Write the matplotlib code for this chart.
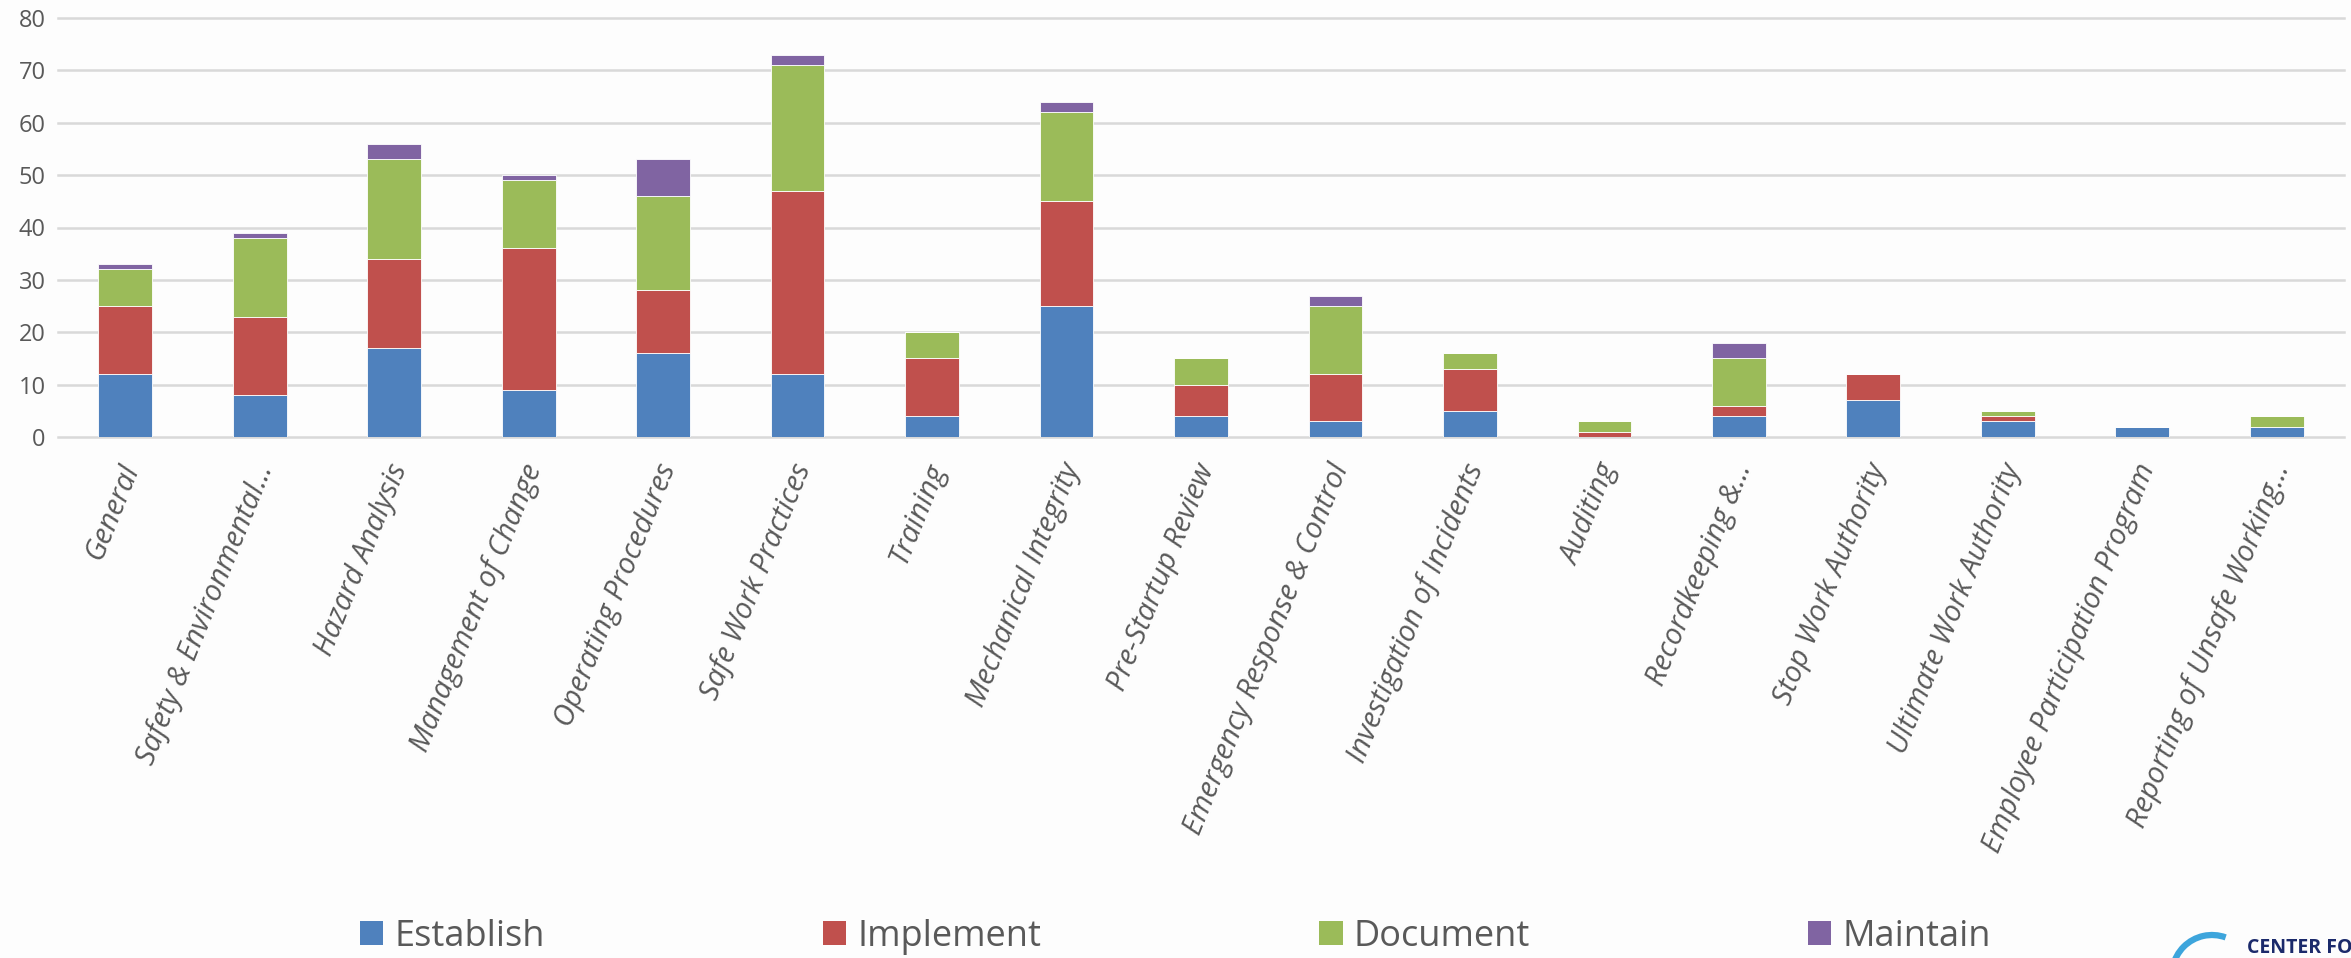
import matplotlib
matplotlib.use("Agg")
import matplotlib.pyplot as plt
import matplotlib.transforms as mtransforms
import numpy as np
from matplotlib.patches import Patch, Arc

plt.rcParams['font.family'] = ['Open Sans', 'DejaVu Sans']

# element names along the x axis
categories = [
    "General", "Safety & Environmental...", "Hazard Analysis",
    "Management of Change", "Operating Procedures", "Safe Work Practices",
    "Training", "Mechanical Integrity", "Pre-Startup Review",
    "Emergency Response & Control", "Investigation of Incidents",
    "Auditing", "Recordkeeping &...", "Stop Work Authority",
    "Ultimate Work Authority", "Employee Participation Program",
    "Reporting of Unsafe Working...",
]

establish = [12, 8, 17, 9, 16, 12, 4, 25, 4, 3, 5, 0, 4, 7, 3, 2, 2]
implement = [13, 15, 17, 27, 12, 35, 11, 20, 6, 9, 8, 1, 2, 5, 1, 0, 0]
document = [7, 15, 19, 13, 18, 24, 5, 17, 5, 13, 3, 2, 9, 0, 1, 0, 2]
maintain = [1, 1, 3, 1, 7, 2, 0, 2, 0, 2, 0, 0, 3, 0, 0, 0, 0]

series = [
    ("Establish", establish, "#4F81BD"),
    ("Implement", implement, "#C0504D"),
    ("Document", document, "#9BBB59"),
    ("Maintain", maintain, "#8064A2"),
]

W, H = 2351, 958
fig = plt.figure(figsize=(W / 100, H / 100), dpi=100, facecolor="#fdfdfd")
ax = fig.add_axes([58 / W, 1 - 437 / H, (2344 - 58) / W, (437 - 18) / H])
ax.set_facecolor("none")

x = np.arange(len(categories))
bottom = np.zeros(len(categories))
for name, vals, col in series:
    vals = np.array(vals, dtype=float)
    ax.bar(x, vals, width=0.40, bottom=bottom, color=col,
           edgecolor="white", linewidth=0.6, zorder=3)
    bottom += vals

ax.set_xlim(-0.5, 16.5)
ax.set_ylim(0, 80)
ax.set_yticks(range(0, 81, 10))
ax.yaxis.grid(True, color="#d9d9d9", linewidth=1.8)
for gl in ax.get_ygridlines():
    gl.set_clip_on(False)
ax.set_axisbelow(True)
for s in ax.spines.values():
    s.set_visible(False)

ax.tick_params(axis="y", length=0, pad=9, labelsize=17, labelcolor="#595959")
ax.tick_params(axis="x", length=0, pad=20)
ax.set_xticks(x)
ax.set_xticklabels(categories, rotation=68, ha="right", va="center",
                   rotation_mode="anchor", fontsize=21, style="italic",
                   color="#595959")
# nudge the slanted labels a little to the right of each tick
shift = mtransforms.ScaledTranslation(6 / 100, 0, fig.dpi_scale_trans)
for lbl in ax.get_xticklabels():
    lbl.set_transform(lbl.get_transform() + shift)

handles = [Patch(facecolor=col, edgecolor="none") for _, _, col in series]
labels = [name for name, _, _ in series]
fig.legend(handles, labels, loc="center left",
           bbox_to_anchor=(360 / W, 1 - 937 / H), ncol=4, frameon=False,
           fontsize=26, labelcolor="#595959", handlelength=0.65,
           handleheight=0.65, handletextpad=0.3, columnspacing=7.7,
           borderpad=0, borderaxespad=0)

# corner logo, cut off by the slide edge
fig.add_artist(Arc((2212 / 100, (H - 975) / 100), 0.8, 0.8, theta1=70,
                   theta2=200, color="#3da5dc", linewidth=4.5,
                   transform=fig.dpi_scale_trans))
fig.text(2247 / W, 1 - 938 / H, "CENTER FOR", color="#1b2a6b",
         fontsize=14, fontweight="bold", va="top", ha="left")

fig.savefig("out.png", dpi=100, facecolor=fig.get_facecolor())
